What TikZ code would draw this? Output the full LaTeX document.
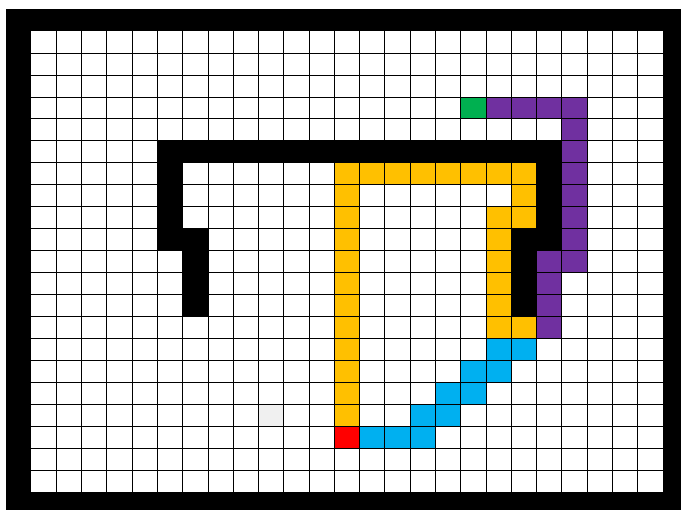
\documentclass[tikz,border=0pt]{standalone}
\usepackage{tikz}
\definecolor{pathyellow}{HTML}{FFC000}
\definecolor{pathblue}{HTML}{00B0F0}
\definecolor{pathpurple}{HTML}{7030A0}
\definecolor{startgreen}{HTML}{00B050}
\definecolor{goalred}{HTML}{FF0000}
\definecolor{visitgray}{HTML}{F0F0F0}
\newcommand{\cell}[3]{%
  \fill[#1] (#2,#3) rectangle ++(1,1);%
}

\begin{document}
\begin{tikzpicture}[x=25.27pt, y=-21.97pt]
    \useasboundingbox (-1.227,-1.411) rectangle (25.72,21.80);
    % frame
    \fill[black] (-1,-1) rectangle (26,22);
    \fill[white] (0,0) rectangle (25,21);
    % coloured paths
    \cell{startgreen}{17}{3}
    \foreach \c in {18,...,21} {\cell{pathpurple}{\c}{3}}
    \foreach \r in {4,...,10} {\cell{pathpurple}{21}{\r}}
    \foreach \r in {10,...,13} {\cell{pathpurple}{20}{\r}}
    \foreach \c in {12,...,19} {\cell{pathyellow}{\c}{6}}
    \foreach \r in {7,...,17} {\cell{pathyellow}{12}{\r}}
    \cell{pathyellow}{19}{7}
    \cell{pathyellow}{19}{8}
    \foreach \r in {8,...,13} {\cell{pathyellow}{18}{\r}}
    \cell{pathyellow}{19}{13}
    \foreach \c/\r in {18/14,19/14,17/15,18/15,16/16,17/16,15/17,16/17,13/18,14/18,15/18}
      {\cell{pathblue}{\c}{\r}}
    \cell{goalred}{12}{18}
    \cell{visitgray}{9}{17}
    % grid
    \foreach \c in {1,...,24} {\draw[black, line width=0.8pt] (\c,0) -- (\c,21);}
    \foreach \r in {1,...,20} {\draw[black, line width=0.8pt] (0,\r) -- (25,\r);}
    % walls
    \foreach \c in {5,...,20} {\cell{black}{\c}{5}}
    \foreach \r in {6,...,9} {\cell{black}{5}{\r}\cell{black}{20}{\r}}
    \foreach \r in {9,...,12} {\cell{black}{6}{\r}\cell{black}{19}{\r}}
  \end{tikzpicture}
\end{document}
